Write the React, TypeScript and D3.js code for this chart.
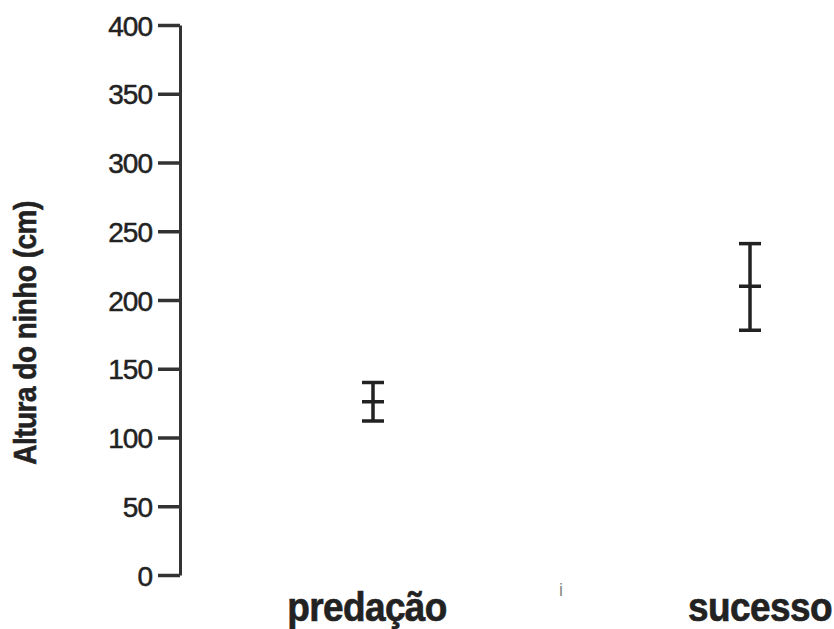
import { useEffect, useRef } from "react";
import * as d3 from "d3";

// groups and their nest height summary (mean with upper/lower error)
const groups = ["predação", "sucesso"];
const means = [126, 210];
const upper = [140, 241];
const lower = [112, 178];
const yTicks = [0, 50, 100, 150, 200, 250, 300, 350, 400];

export default function App() {
    const svgRef = useRef<SVGSVGElement>(null);
    const width = 834;
    const height = 629;
    const margin = { top: 25, right: 84, bottom: 54, left: 180 };

    useEffect(() => {
        const svg = d3.select(svgRef.current);
        svg.selectAll("*").remove();

        const font = "'Liberation Sans', Arial, Helvetica, sans-serif";
        const ink = "#222";

        const yScale = d3
            .scaleLinear()
            .domain([0, 400])
            .range([height - margin.bottom, margin.top]);

        const xScale = d3
            .scalePoint()
            .domain(groups)
            .range([373, 750]);

        // Y axis
        const yAxis = svg
            .append("g")
            .attr("transform", `translate(${margin.left},0)`)
            .call(
                d3.axisLeft(yScale)
                    .tickValues(yTicks)
                    .tickSize(22)
                    .tickPadding(6)
                    .tickSizeOuter(0)
            );
        yAxis.select(".domain").attr("stroke", "#333").attr("stroke-width", 3);
        yAxis.selectAll(".tick line").attr("stroke", "#333").attr("stroke-width", 3.5);
        yAxis
            .selectAll(".tick text")
            .attr("fill", ink)
            .attr("stroke", ink)
            .attr("stroke-width", 0.5)
            .attr("font-family", font)
            .attr("font-size", 28)
            .attr("letter-spacing", -1)
            .attr("dy", "0.36em");

        // Y axis title
        svg.append("text")
            .attr("transform", "translate(36,333) rotate(-90) scale(1,1.15)")
            .attr("text-anchor", "middle")
            .attr("font-family", font)
            .attr("font-weight", "bold")
            .attr("font-size", 28)
            .attr("letter-spacing", -0.5)
            .attr("fill", ink)
            .attr("stroke", ink)
            .attr("stroke-width", 0.5)
            .text("Altura do ninho (cm)");

        // Error bars
        const capW = 11;
        const g = svg.append("g").attr("stroke", ink).attr("stroke-width", 3.5);
        groups.forEach((k, i) => {
            const x = xScale(k)!;
            g.append("line")
                .attr("x1", x).attr("x2", x)
                .attr("y1", yScale(upper[i])).attr("y2", yScale(lower[i]));
            [upper[i], means[i], lower[i]].forEach(v => {
                g.append("line")
                    .attr("x1", x - capW).attr("x2", x + capW)
                    .attr("y1", yScale(v)).attr("y2", yScale(v));
            });
        });

        // Category labels
        svg.append("g")
            .selectAll("text")
            .data(groups)
            .join("text")
            .attr("transform", d => `translate(${xScale(d)! + (d === "sucesso" ? 10 : -6)},621) scale(1,1.12)`)
            .attr("text-anchor", "middle")
            .attr("font-family", font)
            .attr("font-weight", "bold")
            .attr("font-size", 37)
            .attr("letter-spacing", -0.6)
            .attr("fill", ink)
            .attr("stroke", ink)
            .attr("stroke-width", 0.6)
            .text(d => d);

        // stray mark between categories
        svg.append("text")
            .attr("x", 561)
            .attr("y", 596)
            .attr("text-anchor", "middle")
            .attr("font-family", font)
            .attr("font-size", 18)
            .attr("fill", "#888")
            .text("i");
    }, []);

    return (
        <svg
            ref={svgRef}
            width={width}
            height={height}
            style={{ position: "absolute", left: 0, top: 0, background: "#fff" }}
        />
    );
}
